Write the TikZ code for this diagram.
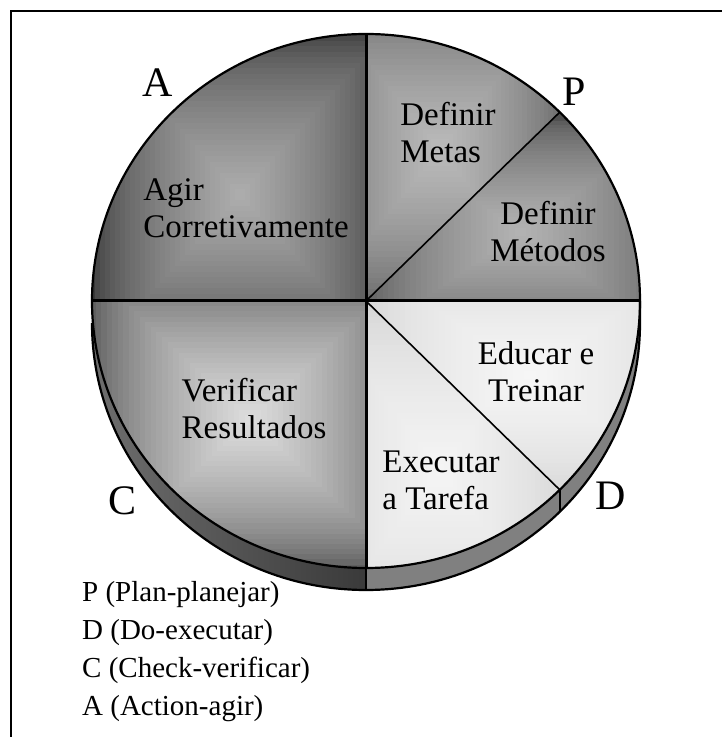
\documentclass[tikz,border=0pt]{standalone}
\usepackage{fontspec}
\setmainfont{Liberation Serif}
\usetikzlibrary{calc}

% edge / centre greys of each slice
\definecolor{agirE}{HTML}{383838}\definecolor{agirC}{HTML}{ACACAC}
\definecolor{metasE}{HTML}{5C5C5C}\definecolor{metasC}{HTML}{BABABA}
\definecolor{metodE}{HTML}{505050}\definecolor{metodC}{HTML}{B2B2B2}
\definecolor{educE}{HTML}{D4D4D4}\definecolor{educC}{HTML}{F6F6F6}
\definecolor{execE}{HTML}{D2D2D2}\definecolor{execC}{HTML}{F4F4F4}
\definecolor{verifE}{HTML}{4C4C4C}\definecolor{verifC}{HTML}{DCDCDC}
\definecolor{sideR}{HTML}{808080}
\definecolor{sideL1}{HTML}{6E6E6E}\definecolor{sideL2}{HTML}{3A3A3A}

% rectangular gradient inside one pie slice
% #1 start angle, #2 end angle, #3 cx, #4 cy, #5 hx, #6 hy, #7 edge colour, #8 centre colour
\newcommand{\sliceshade}[8]{%
  \begin{scope}
    \clip (O) -- ([shift={(O)}]#1:274pt and 267pt)
      arc[start angle=#1, end angle=#2, x radius=274pt, y radius=267pt] -- cycle;
    \fill[#7] (O) ++(-300,-300) rectangle ++(600,600);
    \foreach \k in {0,...,29}{
      \pgfmathsetmacro{\f}{1-\k/30}
      \pgfmathsetmacro{\p}{100*(\k/29)^0.6}
      \fill[#8!\p!#7] (#3-#5*\f, #4-#6*\f) rectangle (#3+#5*\f, #4+#6*\f);
    }
  \end{scope}}

\tikzset{
  rim/.style={line width=2.2pt},
  divider/.style={line width=3pt},
  diagonal/.style={line width=1.6pt},
  slicetext/.style={font=\fontsize{33}{37}\selectfont, inner sep=0pt},
  phase/.style={font=\fontsize{42}{42}\selectfont, inner sep=0pt},
  legend/.style={font=\fontsize{29}{29}\selectfont, inner sep=0pt, anchor=base west}
}

\begin{document}
\begin{tikzpicture}[x=1pt,y=1pt]
\useasboundingbox (0,0) rectangle (722,737);

% frame
\draw[line width=2pt] (11,0) -- (11,726) -- (722,726);

% centres of top face and base
\coordinate (O) at (366,436);
\coordinate (B) at (366,414);

% rim points of the top face
\coordinate (rimN) at (366,703);
\coordinate (rimW) at (92,436);
\coordinate (rimE) at (640,436);
\coordinate (rimS) at (366,169);
\coordinate (rimP) at ([shift={(O)}]45:274pt and 267pt);
\coordinate (rimD) at ([shift={(O)}]-45:274pt and 267pt);
\coordinate (baseS) at (366,147);
\coordinate (baseD) at ([shift={(B)}]-45:274pt and 267pt);

% side of the disc
\shade[left color=sideL1, right color=sideL2]
  (92,414) arc[start angle=180, end angle=270, x radius=274pt, y radius=267pt]
  -- (rimS) arc[start angle=270, end angle=180, x radius=274pt, y radius=267pt] -- cycle;
\fill[sideR]
  (baseS) arc[start angle=270, end angle=360, x radius=274pt, y radius=267pt]
  -- (rimE) arc[start angle=360, end angle=270, x radius=274pt, y radius=267pt] -- cycle;

% slices
\sliceshade{90}{180}{240}{542}{150}{165}{agirE}{agirC}
\sliceshade{45}{90}{440}{587}{130}{160}{metasE}{metasC}
\sliceshade{0}{45}{520}{505}{165}{115}{metodE}{metodC}
\sliceshade{-45}{0}{530}{362}{170}{120}{educE}{educC}
\sliceshade{-90}{-45}{440}{267}{130}{170}{execE}{execC}
\sliceshade{180}{270}{250}{317}{165}{155}{verifE}{verifC}

% outlines
\draw[rim] (O) ellipse[x radius=274pt, y radius=267pt];
\draw[rim] (92,414) arc[start angle=180, end angle=360, x radius=274pt, y radius=267pt] -- (rimE);
\draw[rim] (rimS) -- (baseS);
\draw[rim] (rimD) -- (baseD);

% dividers
\draw[divider] (rimW) -- (rimE);
\draw[divider] (rimN) -- (rimS);
\draw[diagonal] (O) -- (rimP);
\draw[diagonal] (O) -- (rimD);

% slice labels
\node[slicetext, align=left]   (agir)  at (246,529) {Agir\\Corretivamente};
\node[slicetext, align=left]   (metas) at (448,604) {Definir\\Metas};
\node[slicetext, align=center] (metod) at (548,505) {Definir\\Métodos};
\node[slicetext, align=center] (educ)  at (536,365) {Educar e\\Treinar};
\node[slicetext, align=left]   (exec)  at (441,257) {Executar\\a Tarefa};
\node[slicetext, align=left]   (verif) at (254,328) {Verificar\\Resultados};

% phase letters
\node[phase] (lA) at (158,654) {A};
\node[phase] (lP) at (574,645) {P};
\node[phase] (lC) at (123,236) {C};
\node[phase] (lD) at (611,241) {D};

% legend
\node[legend] (legP) at (82,135) {P (Plan-planejar)};
\node[legend] (legD) at (82,97)  {D (Do-executar)};
\node[legend] (legC) at (82,59)  {C (Check-verificar)};
\node[legend] (legA) at (82,21)  {A (Action-agir)};
\end{tikzpicture}
\end{document}
